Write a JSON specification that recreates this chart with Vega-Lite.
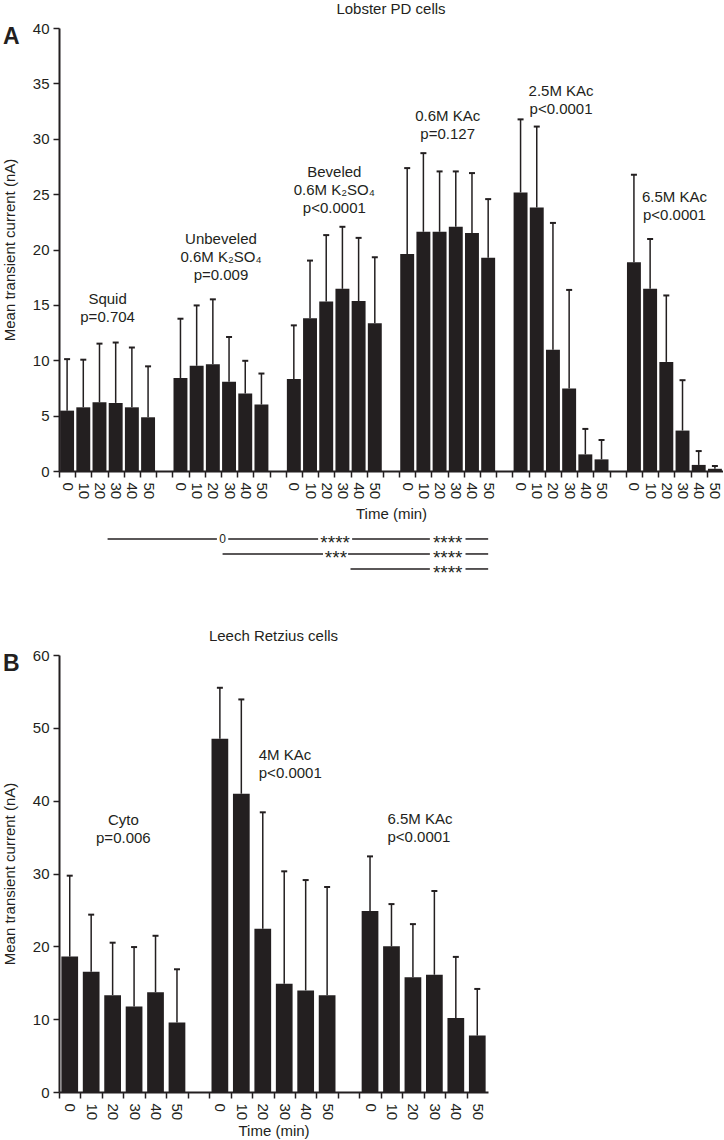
{
  "$schema": "https://vega.github.io/schema/vega-lite/v6.json",
  "padding": {"left": 2, "top": 2, "right": 0, "bottom": 0},
  "spacing": 46,
  "datasets": {
    "lobster": [
      {"slot": "Squid|0", "mean": 5.45, "upper": 10.1},
      {"slot": "Squid|10", "mean": 5.75, "upper": 10.05},
      {"slot": "Squid|20", "mean": 6.2, "upper": 11.5},
      {"slot": "Squid|30", "mean": 6.15, "upper": 11.6},
      {"slot": "Squid|40", "mean": 5.75, "upper": 11.15},
      {"slot": "Squid|50", "mean": 4.85, "upper": 9.45},
      {"slot": "Unbeveled|0", "mean": 8.4, "upper": 13.75},
      {"slot": "Unbeveled|10", "mean": 9.5, "upper": 14.95},
      {"slot": "Unbeveled|20", "mean": 9.65, "upper": 15.5},
      {"slot": "Unbeveled|30", "mean": 8.05, "upper": 12.1},
      {"slot": "Unbeveled|40", "mean": 7.0, "upper": 9.95},
      {"slot": "Unbeveled|50", "mean": 6.0, "upper": 8.8},
      {"slot": "Beveled|0", "mean": 8.3, "upper": 13.15},
      {"slot": "Beveled|10", "mean": 13.8, "upper": 19.0},
      {"slot": "Beveled|20", "mean": 15.3, "upper": 21.3},
      {"slot": "Beveled|30", "mean": 16.45, "upper": 22.05},
      {"slot": "Beveled|40", "mean": 15.35, "upper": 21.05},
      {"slot": "Beveled|50", "mean": 13.35, "upper": 19.3},
      {"slot": "KAc0.6|0", "mean": 19.6, "upper": 27.35},
      {"slot": "KAc0.6|10", "mean": 21.6, "upper": 28.7},
      {"slot": "KAc0.6|20", "mean": 21.6, "upper": 27.05},
      {"slot": "KAc0.6|30", "mean": 22.05, "upper": 27.05},
      {"slot": "KAc0.6|40", "mean": 21.5, "upper": 26.9},
      {"slot": "KAc0.6|50", "mean": 19.25, "upper": 24.55},
      {"slot": "KAc2.5|0", "mean": 25.15, "upper": 31.75},
      {"slot": "KAc2.5|10", "mean": 23.8, "upper": 31.1},
      {"slot": "KAc2.5|20", "mean": 10.95, "upper": 22.4},
      {"slot": "KAc2.5|30", "mean": 7.45, "upper": 16.35},
      {"slot": "KAc2.5|40", "mean": 1.5, "upper": 3.8},
      {"slot": "KAc2.5|50", "mean": 1.05, "upper": 2.8},
      {"slot": "KAc6.5|0", "mean": 18.85, "upper": 26.75},
      {"slot": "KAc6.5|10", "mean": 16.45, "upper": 20.95},
      {"slot": "KAc6.5|20", "mean": 9.85, "upper": 15.85},
      {"slot": "KAc6.5|30", "mean": 3.65, "upper": 8.2},
      {"slot": "KAc6.5|40", "mean": 0.55, "upper": 1.8},
      {"slot": "KAc6.5|50", "mean": 0.2, "upper": 0.45}
    ],
    "lobsterLabels": [
      {"slot": "Squid|20", "ly": 15.5, "label": "Squid\np=0.704"},
      {"slot": "Unbeveled|20", "ly": 20.95, "label": "Unbeveled\n0.6M K₂SO₄\np=0.009"},
      {"slot": "Beveled|20", "ly": 27.0, "label": "Beveled\n0.6M K₂SO₄\np<0.0001"},
      {"slot": "KAc0.6|20", "ly": 32.05, "label": "0.6M KAc\np=0.127"},
      {"slot": "KAc2.5|20", "ly": 34.3, "label": "2.5M KAc\np<0.0001"},
      {"slot": "KAc6.5|20", "ly": 24.75, "label": "6.5M KAc\np<0.0001"}
    ],
    "lobsterLetter": [
      {"slot": "Squid|0", "ly": 40, "panel": "A"}
    ],
    "sig": [
      {"row": 1, "from": 3.0, "to": 9.75},
      {"row": 1, "from": 10.45, "to": 16.0},
      {"row": 1, "from": 18.1, "to": 22.9},
      {"row": 1, "from": 25.1, "to": 26.5},
      {"row": 2, "from": 10.1, "to": 16.3},
      {"row": 2, "from": 17.85, "to": 22.9},
      {"row": 2, "from": 25.1, "to": 26.5},
      {"row": 3, "from": 18.0, "to": 22.9},
      {"row": 3, "from": 25.1, "to": 26.5}
    ],
    "sigLabels": [
      {"row": 1, "at": 10.1, "stars": "0"},
      {"row": 1, "at": 17.05, "stars": "****"},
      {"row": 1, "at": 24.0, "stars": "****"},
      {"row": 2, "at": 17.1, "stars": "***"},
      {"row": 2, "at": 24.0, "stars": "****"},
      {"row": 3, "at": 24.0, "stars": "****"}
    ],
    "leech": [
      {"slot": "Cyto|0", "mean": 18.6, "upper": 29.7},
      {"slot": "Cyto|10", "mean": 16.5, "upper": 24.35},
      {"slot": "Cyto|20", "mean": 13.3, "upper": 20.5},
      {"slot": "Cyto|30", "mean": 11.75, "upper": 19.9},
      {"slot": "Cyto|40", "mean": 13.7, "upper": 21.45},
      {"slot": "Cyto|50", "mean": 9.55, "upper": 16.85},
      {"slot": "KAc4|0", "mean": 48.5, "upper": 55.5},
      {"slot": "KAc4|10", "mean": 40.95, "upper": 53.9},
      {"slot": "KAc4|20", "mean": 22.4, "upper": 38.4},
      {"slot": "KAc4|30", "mean": 14.85, "upper": 30.3},
      {"slot": "KAc4|40", "mean": 13.95, "upper": 29.1},
      {"slot": "KAc4|50", "mean": 13.3, "upper": 28.15},
      {"slot": "KAc6.5|0", "mean": 24.85, "upper": 32.35},
      {"slot": "KAc6.5|10", "mean": 20.0, "upper": 25.8},
      {"slot": "KAc6.5|20", "mean": 15.75, "upper": 23.05},
      {"slot": "KAc6.5|30", "mean": 16.1, "upper": 27.6},
      {"slot": "KAc6.5|40", "mean": 10.15, "upper": 18.55},
      {"slot": "KAc6.5|50", "mean": 7.75, "upper": 14.15}
    ],
    "leechLabelsCenter": [
      {"slot": "Cyto|20", "ly": 37.35, "label": "Cyto\np=0.006"}
    ],
    "leechLabelsLeft": [
      {"slot": "KAc4|20", "ly": 46.25, "label": "4M KAc\np<0.0001"},
      {"slot": "KAc6.5|10", "ly": 37.45, "label": "6.5M KAc\np<0.0001"}
    ],
    "leechLetter": [
      {"slot": "Cyto|0", "ly": 60, "panel": "B"}
    ]
  },
  "vconcat": [
    {
      "width": 664,
      "height": 443,
      "title": "Lobster PD cells",
      "resolve": {"scale": {"x": "independent", "y": "independent"}},
      "layer": [
        {
          "data": {"name": "lobster"},
          "layer": [
            {
              "mark": {"type": "bar", "color": "#231f20"},
              "encoding": {
                "x": {
                  "field": "slot", "type": "nominal",
                  "scale": {
                    "domain": ["Squid|0","Squid|10","Squid|20","Squid|30","Squid|40","Squid|50","gap1",
                               "Unbeveled|0","Unbeveled|10","Unbeveled|20","Unbeveled|30","Unbeveled|40","Unbeveled|50","gap2",
                               "Beveled|0","Beveled|10","Beveled|20","Beveled|30","Beveled|40","Beveled|50","gap3",
                               "KAc0.6|0","KAc0.6|10","KAc0.6|20","KAc0.6|30","KAc0.6|40","KAc0.6|50","gap4",
                               "KAc2.5|0","KAc2.5|10","KAc2.5|20","KAc2.5|30","KAc2.5|40","KAc2.5|50","gap5",
                               "KAc6.5|0","KAc6.5|10","KAc6.5|20","KAc6.5|30","KAc6.5|40","KAc6.5|50"],
                    "paddingInner": 0.14, "paddingOuter": 0.07
                  },
                  "axis": {
                    "title": "Time (min)",
                    "labelExpr": "indexof(datum.value, '|') >= 0 ? split(datum.value, '|')[1] : ''",
                    "labelAngle": 90, "labelPadding": 5, "titlePadding": 8,
                    "tickOffset": -8.1, "labelOffset": 8.1
                  }
                },
                "y": {
                  "field": "mean", "type": "quantitative",
                  "scale": {"domain": [0, 40]},
                  "axis": {"title": "Mean transient current (nA)", "tickCount": 8}
                }
              }
            },
            {
              "mark": {"type": "rule", "color": "#231f20", "strokeWidth": 1.5},
              "encoding": {
                "x": {"field": "slot", "type": "nominal"},
                "y": {"field": "mean", "type": "quantitative"},
                "y2": {"field": "upper"}
              }
            },
            {
              "mark": {"type": "point", "shape": "M-1,0L1,0", "size": 36, "filled": false, "strokeWidth": 2, "color": "#231f20", "opacity": 1},
              "encoding": {
                "x": {"field": "slot", "type": "nominal"},
                "y": {"field": "upper", "type": "quantitative"}
              }
            },
            {
              "data": {"name": "lobsterLabels"},
              "mark": {"type": "text", "fontSize": 15, "lineBreak": "\n", "lineHeight": 18, "align": "center", "baseline": "middle", "dx": 8.1, "color": "#231f20"},
              "encoding": {
                "x": {"field": "slot", "type": "nominal"},
                "y": {"field": "ly", "type": "quantitative"},
                "text": {"field": "label"}
              }
            },
            {
              "data": {"name": "lobsterLetter"},
              "mark": {"type": "text", "fontSize": 23, "fontWeight": "bold", "align": "left", "baseline": "alphabetic", "dx": -64, "dy": 16, "color": "#231f20"},
              "encoding": {
                "x": {"field": "slot", "type": "nominal"},
                "y": {"field": "ly", "type": "quantitative"},
                "text": {"field": "panel"}
              }
            }
          ]
        },
        {
          "layer": [
            {
              "data": {"name": "sig"},
              "mark": {"type": "rule", "color": "#231f20", "strokeWidth": 1.5},
              "encoding": {
                "x": {"field": "from", "type": "quantitative", "scale": {"domain": [0, 41], "nice": false, "zero": false}, "axis": null},
                "x2": {"field": "to"},
                "y": {"field": "row", "type": "quantitative", "scale": {"domain": [-33.06, -3.53], "reverse": true, "nice": false, "zero": false}, "axis": null}
              }
            },
            {
              "data": {"name": "sigLabels"},
              "transform": [{"filter": "datum.stars != '0'"}],
              "mark": {"type": "text", "fontSize": 19, "baseline": "middle", "dy": 4, "color": "#231f20"},
              "encoding": {
                "x": {"field": "at", "type": "quantitative"},
                "y": {"field": "row", "type": "quantitative"},
                "text": {"field": "stars"}
              }
            },
            {
              "data": {"name": "sigLabels"},
              "transform": [{"filter": "datum.stars == '0'"}],
              "mark": {"type": "text", "fontSize": 12, "baseline": "middle", "dy": 0, "color": "#231f20"},
              "encoding": {
                "x": {"field": "at", "type": "quantitative"},
                "y": {"field": "row", "type": "quantitative"},
                "text": {"field": "stars"}
              }
            }
          ]
        }
      ]
    },
    {
      "width": 429,
      "height": 437,
      "title": "Leech Retzius cells",
      "data": {"name": "leech"},
      "layer": [
        {
          "mark": {"type": "bar", "color": "#231f20"},
          "encoding": {
            "x": {
              "field": "slot", "type": "nominal",
              "scale": {
                "domain": ["Cyto|0","Cyto|10","Cyto|20","Cyto|30","Cyto|40","Cyto|50","gap1",
                           "KAc4|0","KAc4|10","KAc4|20","KAc4|30","KAc4|40","KAc4|50","gap2",
                           "KAc6.5|0","KAc6.5|10","KAc6.5|20","KAc6.5|30","KAc6.5|40","KAc6.5|50"],
                "paddingInner": 0.22, "paddingOuter": 0.11
              },
              "axis": {
                "title": "Time (min)",
                "labelExpr": "indexof(datum.value, '|') >= 0 ? split(datum.value, '|')[1] : ''",
                "labelAngle": 90, "labelPadding": 5, "titlePadding": 4,
                "tickOffset": -10.72, "labelOffset": 10.72
              }
            },
            "y": {
              "field": "mean", "type": "quantitative",
              "scale": {"domain": [0, 60]},
              "axis": {"title": "Mean transient current (nA)", "tickCount": 6}
            }
          }
        },
        {
          "mark": {"type": "rule", "color": "#231f20", "strokeWidth": 1.5},
          "encoding": {
            "x": {"field": "slot", "type": "nominal"},
            "y": {"field": "mean", "type": "quantitative"},
            "y2": {"field": "upper"}
          }
        },
        {
          "mark": {"type": "point", "shape": "M-1,0L1,0", "size": 36, "filled": false, "strokeWidth": 2, "color": "#231f20", "opacity": 1},
          "encoding": {
            "x": {"field": "slot", "type": "nominal"},
            "y": {"field": "upper", "type": "quantitative"}
          }
        },
        {
          "data": {"name": "leechLabelsCenter"},
          "mark": {"type": "text", "fontSize": 15, "lineBreak": "\n", "lineHeight": 18, "align": "center", "baseline": "middle", "dx": 10.72, "color": "#231f20"},
          "encoding": {
            "x": {"field": "slot", "type": "nominal"},
            "y": {"field": "ly", "type": "quantitative"},
            "text": {"field": "label"}
          }
        },
        {
          "data": {"name": "leechLabelsLeft"},
          "mark": {"type": "text", "fontSize": 15, "lineBreak": "\n", "lineHeight": 18, "align": "left", "baseline": "middle", "dx": -4, "color": "#231f20"},
          "encoding": {
            "x": {"field": "slot", "type": "nominal"},
            "y": {"field": "ly", "type": "quantitative"},
            "text": {"field": "label"}
          }
        },
        {
          "data": {"name": "leechLetter"},
          "mark": {"type": "text", "fontSize": 23, "fontWeight": "bold", "align": "left", "baseline": "alphabetic", "dx": -66.7, "dy": 16, "color": "#231f20"},
          "encoding": {
            "x": {"field": "slot", "type": "nominal"},
            "y": {"field": "ly", "type": "quantitative"},
            "text": {"field": "panel"}
          }
        }
      ]
    }
  ],
  "config": {
    "font": "Liberation Sans",
    "view": {"stroke": null},
    "title": {"fontSize": 15, "fontWeight": "normal", "color": "#231f20", "offset": 4},
    "axis": {
      "domainColor": "#231f20", "domainWidth": 2,
      "tickColor": "#231f20", "tickWidth": 1.5, "tickSize": 6,
      "labelFontSize": 15, "labelColor": "#231f20",
      "titleFontSize": 15, "titleFontWeight": "normal", "titleColor": "#231f20",
      "grid": false
    },
    "axisY": {"labelPadding": 4, "titlePadding": 15}
  }
}
